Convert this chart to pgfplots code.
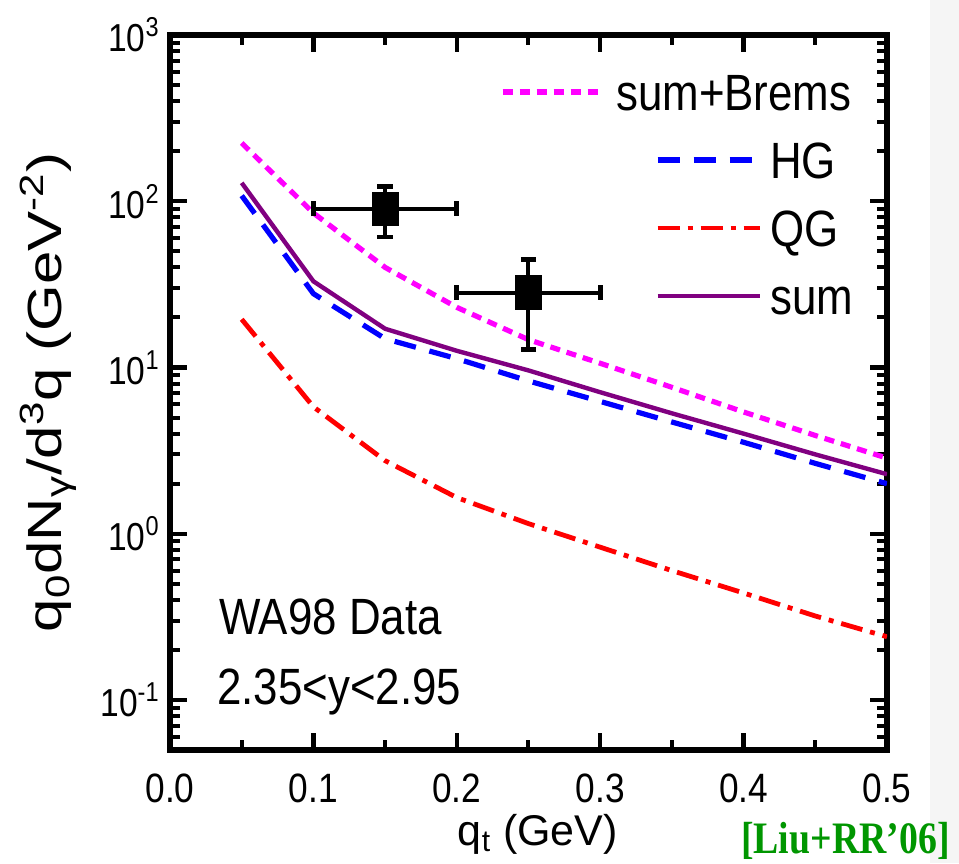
\documentclass[border=0pt]{standalone}
\usepackage{pgfplots}
\pgfplotsset{compat=1.18}
\usepackage{fontspec}
\setmainfont{Liberation Sans}[FakeStretch=0.86]
\newfontfamily\ylabfont{Liberation Sans}[FakeStretch=1.25]
\newfontfamily\xlabfont{Liberation Sans}
\newfontfamily\serifb{Liberation Serif Bold}[FakeStretch=0.84]
\definecolor{cMag}{RGB}{255,0,255}
\definecolor{cBlue}{RGB}{0,0,255}
\definecolor{cRed}{RGB}{255,0,0}
\definecolor{cPurple}{RGB}{128,0,128}
\definecolor{cGreen}{RGB}{0,150,0}

\pgfplotsset{
  stdlegend/.style={legend image code/.code={\draw[##1] (0pt,0pt) -- (51pt,0pt);}},
  bremslegend/.style={legend image code/.code={\draw[##1] (-77.5pt,0pt) -- (-30pt,0pt);}},
}

\pgfplotstableread{
x     brems  hg    qg    sum
0.05  224    108   19.5  129
0.10  85     27.8  5.8   33
0.15  40     14.9  2.75  17.1
0.20  23     11.3  1.65  12.6
0.25  14.7   8.3   1.15  9.6
0.30  10.6   6.25  0.83  7.1
0.35  7.6    4.7   0.60  5.3
0.40  5.4    3.55  0.44  4.0
0.45  3.9    2.65  0.32  3.0
0.50  2.85   2.0   0.24  2.28
}\curves

\begin{document}
\begin{tikzpicture}
\useasboundingbox (-85pt,-56.5pt) rectangle (394.5pt,375pt);
\fill[black!4] (380pt,-56.5pt) rectangle (394.5pt,375pt);
\begin{axis}[
  scale only axis, width=358.5pt, height=357.5pt,
  at={(0,0)}, anchor=south west,
  xmin=0, xmax=0.5, ymode=log, ymin=0.05, ymax=1000,
  xtick={0,0.1,0.2,0.3,0.4,0.5},
  xticklabels={0.0,0.1,0.2,0.3,0.4,0.5},
  minor xtick={0.05,0.15,0.25,0.35,0.45},
  ytick={0.1,1,10,100,1000},
  minor ytick={0.06,0.07,0.08,0.09,0.2,0.3,0.4,0.5,0.6,0.7,0.8,0.9,2,3,4,5,6,7,8,9,20,30,40,50,60,70,80,90,200,300,400,500,600,700,800,900},
  yticklabels={10\textsuperscript{-1},10\textsuperscript{0},10\textsuperscript{1},10\textsuperscript{2},10\textsuperscript{3}},
  xtick pos=both, ytick pos=both,
  tick align=inside,
  tickwidth=8.5pt, subtickwidth=5pt,
  every major tick/.append style={black, line width=2.2pt},
  every minor tick/.append style={black, line width=2pt},
  axis line style={line width=3.2pt},
  xticklabel style={font=\fontsize{20.5}{24}\selectfont, anchor=base, yshift=-26pt},
  yticklabel style={font=\fontsize{19.5}{23}\selectfont, anchor=east, inner sep=0pt, xshift=-5pt},
  xlabel={\xlabfont q\textsubscript{t} (GeV)},
  ylabel={\ylabfont q\textsubscript{0}dN\textsubscript{γ}/d\textsuperscript{3}q (GeV\textsuperscript{-2})},
  every axis x label/.style={at={(axis description cs:0.513,-0.1329)}, anchor=base, font=\fontsize{21.5}{25}\selectfont},
  every axis y label/.style={at={(axis description cs:-0.170,0.5)}, anchor=center, rotate=90, font=\fontsize{24}{28}\selectfont},
  legend style={draw=none, fill=none, at={(axis description cs:0.4603,0.9459)}, anchor=north west,
     inner sep=0pt, outer sep=0pt, column sep=4pt, row sep=15.74pt,
     font=\fontsize{25.5}{30}\selectfont,
     nodes={inner sep=0pt, text height=18.26pt, text depth=0pt}},
  legend cell align=left,
  stdlegend,
]
\addplot[cMag, line width=2.6pt, dash pattern=on 5pt off 3.5pt, bremslegend]
  table[x=x, y=brems] {\curves};
\addlegendentry{\hspace*{-77pt}sum+Brems}
\addplot[cBlue, line width=2.6pt, dash pattern=on 11pt off 7pt] table[x=x, y=hg] {\curves};
\addlegendentry{HG}
\addplot[cRed, line width=2.4pt, dash pattern=on 11pt off 4pt on 2.5pt off 4pt] table[x=x, y=qg] {\curves};
\addlegendentry{QG}
\addplot[cPurple, line width=2.2pt] table[x=x, y=sum] {\curves};
\addlegendentry{sum}

\addplot[only marks, black, mark=square*, mark size=6.5pt, mark options={yscale=1.3}, forget plot,
  error bars/.cd, x dir=both, y dir=both, x explicit, y explicit,
  error bar style={line width=2pt, black},
  error mark options={rotate=90, line width=2.4pt, mark size=3.8pt, black}]
  coordinates {
    (0.15,90) += (0.05,32) -= (0.05,29)
    (0.25,28.2) += (0.05,16.4) -= (0.05,15.4)
  };

\node[anchor=base west, font=\fontsize{25.5}{30}\selectfont] at (rel axis cs:0.0586,0.161) {WA98 Data};
\node[anchor=base west, font=\fontsize{25.5}{30}\selectfont] at (rel axis cs:0.056,0.063) {2.35<y<2.95};
\end{axis}
\node[anchor=base east, text=cGreen, font=\serifb\fontsize{22.5}{26}\selectfont, inner sep=0pt] at (390pt,-51.5pt) {[Liu+RR’06]};
\end{tikzpicture}
\end{document}
